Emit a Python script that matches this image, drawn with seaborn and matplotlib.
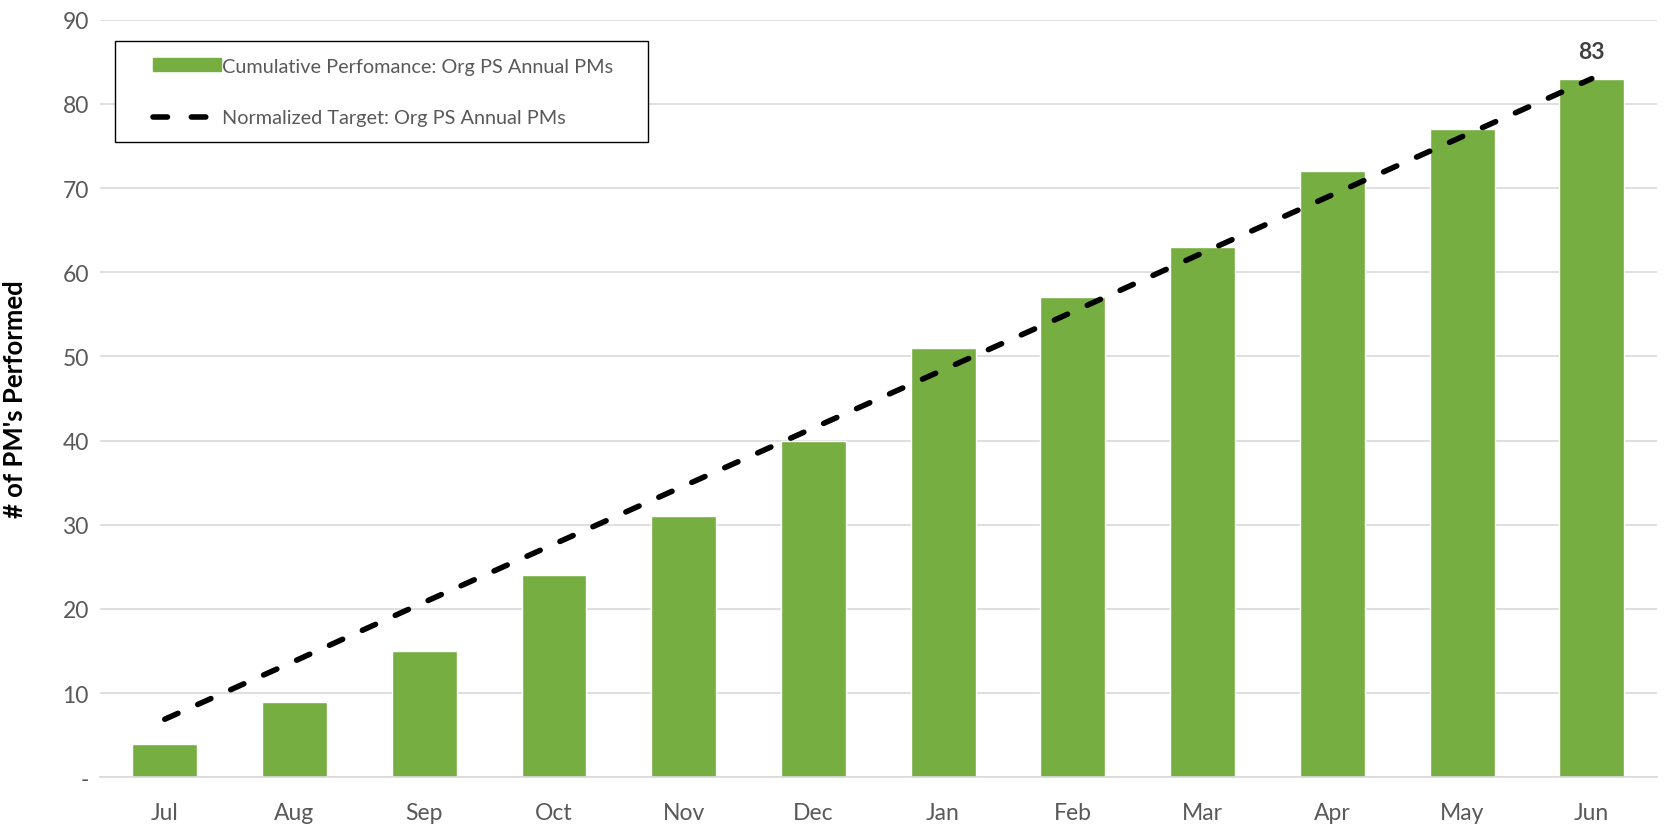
import matplotlib
matplotlib.use("Agg")
import matplotlib.pyplot as plt
import seaborn as sns
import pandas as pd
from matplotlib.patches import Patch, Rectangle
from matplotlib.lines import Line2D

months = ["Jul", "Aug", "Sep", "Oct", "Nov", "Dec", "Jan", "Feb", "Mar", "Apr", "May", "Jun"]
performance = [4, 9, 15, 24, 31, 40, 51, 57, 63, 72, 77, 83]
target = [6.9, 13.8, 20.8, 27.7, 34.6, 41.5, 48.4, 55.3, 62.3, 69.2, 76.1, 83.0]
yticks = [0, 10, 20, 30, 40, 50, 60, 70, 80, 90]
ytick_labels = ["-", "10", "20", "30", "40", "50", "60", "70", "80", "90"]

sns.set_style("white")
plt.rcParams["font.family"] = ["Lato", "DejaVu Sans"]

df = pd.DataFrame({"month": months, "performance": performance, "target": target})

fig = plt.figure(figsize=(16.65, 8.28), dpi=100)
ax = fig.add_axes([0.060, 0.060, 0.935, 0.915])

green = "#77AE42"
dash = (0, (2.6, 3.9))
sns.barplot(data=df, x="month", y="performance", color=green, width=0.5,
            saturation=1, ax=ax, zorder=2)
ax.plot(range(len(months)), df["target"], color="black", linestyle=dash,
        linewidth=4.0, dash_capstyle="round", zorder=3)

ax.set_ylim(0, 90)
ax.set_xlim(-0.5, len(months) - 0.5)
ax.set_yticks(yticks)
ax.set_yticklabels(ytick_labels)
ax.yaxis.grid(True, color="#D9D9D9", linewidth=1.2, zorder=0)
ax.set_axisbelow(True)
for s in ["top", "right", "left"]:
    ax.spines[s].set_visible(False)
ax.spines["bottom"].set_color("#D9D9D9")
ax.spines["bottom"].set_linewidth(1.2)
ax.tick_params(axis="both", length=0, labelsize=16.5, labelcolor="#595959")
ax.tick_params(axis="y", pad=8)
ax.tick_params(axis="x", pad=18)
ax.set_xlabel("")
ax.set_ylabel("# of PM's Performed", fontsize=18.5, fontweight="bold", color="black")
ax.yaxis.set_label_coords(-0.047, 0.5)

ax.text(len(months) - 1, performance[-1] + 2.0, str(performance[-1]), ha="center", va="bottom",
        fontsize=16.5, fontweight="bold", color="#404040")

# legend frame
ax.add_patch(Rectangle((0.0097, 0.8386), 0.352 - 0.0097, 0.972 - 0.8386, transform=ax.transAxes,
                       facecolor="white", edgecolor="black", linewidth=1.0, zorder=5, clip_on=False))

handles = [Patch(facecolor=green, edgecolor=green),
           Line2D([0], [0], color="black", linestyle=(0, (2.6, 4.3)), linewidth=4.0, dash_capstyle="round")]
labels = ["Cumulative Perfomance: Org PS Annual PMs", "Normalized Target: Org PS Annual PMs"]
leg = ax.legend(handles, labels, loc="upper left", bbox_to_anchor=(0.0341, 0.950), frameon=False,
                fontsize=14.3, labelspacing=1.75, handlelength=3.4, handleheight=0.65,
                borderpad=0, borderaxespad=0, handletextpad=0.1)
leg.set_zorder(6)
for t in leg.get_texts():
    t.set_color("#595959")

fig.savefig("out.png", dpi=100)
